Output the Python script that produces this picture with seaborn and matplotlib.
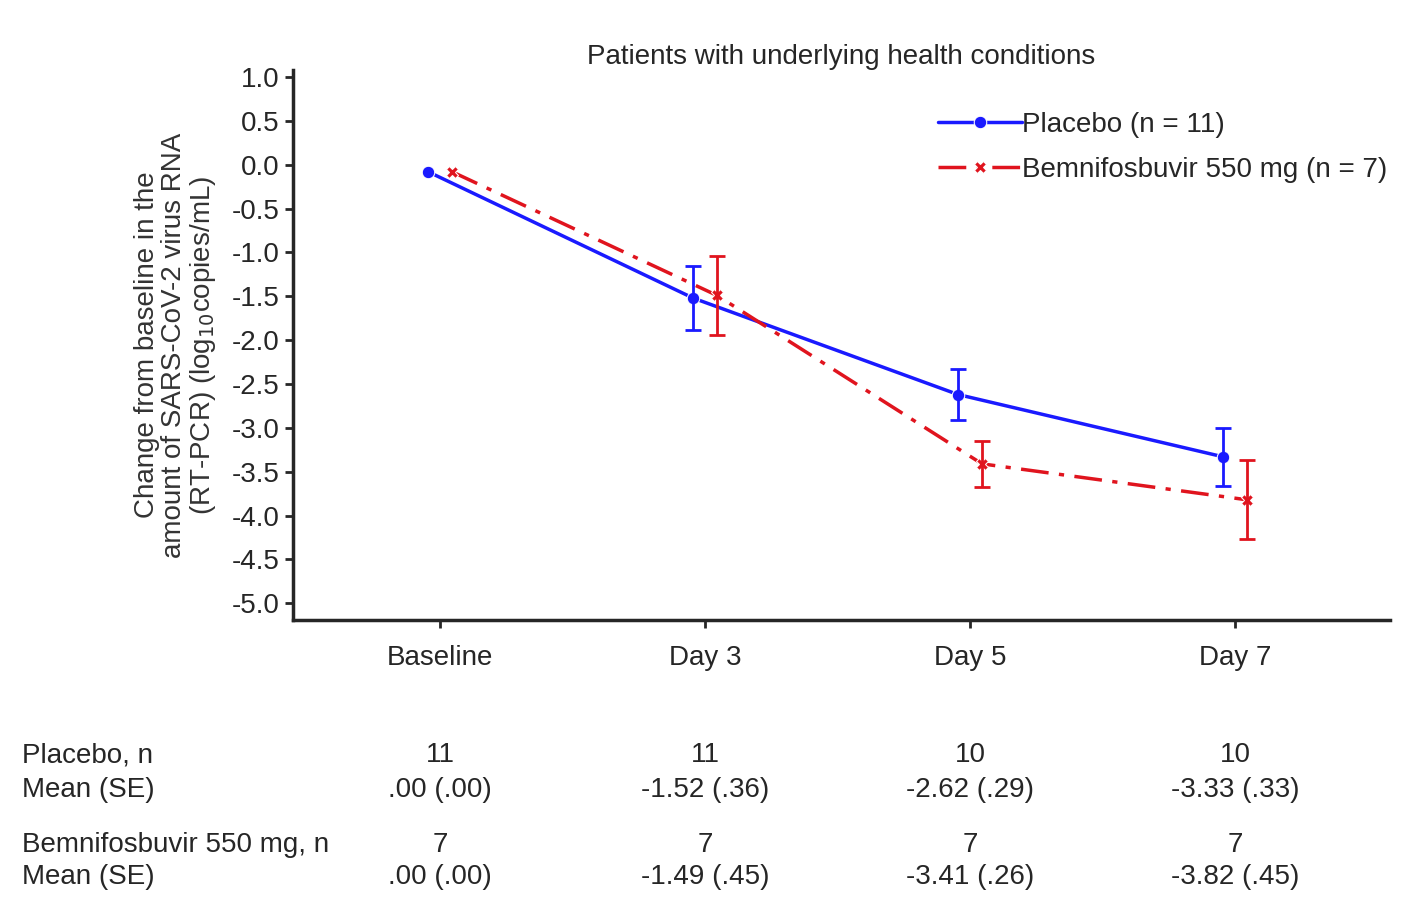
import matplotlib
matplotlib.use('Agg')
import matplotlib.pyplot as plt
import matplotlib.transforms as mtransforms
import seaborn as sns
import pandas as pd
import numpy as np

sns.set_style("ticks")
plt.rcParams['font.family'] = ['Liberation Sans', 'DejaVu Sans']

days = ['Baseline', 'Day 3', 'Day 5', 'Day 7']
placebo_n = [11, 11, 10, 10]
placebo_mean = [0.00, -1.52, -2.62, -3.33]
placebo_se = [0.00, 0.36, 0.29, 0.33]
bemni_n = [7, 7, 7, 7]
bemni_mean = [0.00, -1.49, -3.41, -3.82]
bemni_se = [0.00, 0.45, 0.26, 0.45]
# plotted baseline sits just below zero in the figure
plot_baseline = -0.08

blue = '#1a1aff'
red = '#e0141e'
fs = 20

fig = plt.figure(figsize=(14.19, 9.14), dpi=100)
ax = fig.add_axes([0.2065, 0.3217, 0.7731, 0.6017])

x = np.arange(len(days))
pm = [plot_baseline] + placebo_mean[1:]
bm = [plot_baseline] + bemni_mean[1:]
df = pd.DataFrame({
    'x': np.concatenate([x - 0.045, x + 0.045]),
    'y': pm + bm,
    'group': ['Placebo (n = 11)'] * 4 + ['Bemnifosbuvir 550 mg (n = 7)'] * 4,
})

sns.lineplot(data=df, x='x', y='y', hue='group', style='group',
             palette=[blue, red], dashes=[(None, None), (8, 3, 1.5, 3)],
             markers=['o', 'X'], markersize=9, linewidth=2.5, ax=ax)
ax.errorbar(x[1:] - 0.045, pm[1:], yerr=placebo_se[1:], fmt='none',
            ecolor=blue, elinewidth=2, capsize=6, capthick=2)
ax.errorbar(x[1:] + 0.045, bm[1:], yerr=bemni_se[1:], fmt='none',
            ecolor=red, elinewidth=2, capsize=6, capthick=2)

ax.set_xlim(-0.555, 3.585)
ax.set_ylim(-5.19, 1.08)
ax.set_yticks(np.arange(-5.0, 1.01, 0.5))
ax.set_yticklabels([f'{v:.1f}' for v in np.arange(-5.0, 1.01, 0.5)], fontsize=fs)
ax.set_xticks(x)
ax.set_xticklabels(days, fontsize=fs)
ax.tick_params(axis='both', width=2, length=6)
ax.tick_params(axis='x', pad=12)
for s in ['left', 'bottom']:
    ax.spines[s].set_linewidth(2.5)
sns.despine(ax=ax)
ax.set_xlabel('')
ax.set_ylabel('Change from baseline in the\namount of SARS-CoV-2 virus RNA\n(RT-PCR) (log$_{10}$copies/mL)',
              fontsize=fs, color='#333333', labelpad=10, linespacing=1.05)
ax.set_title('Patients with underlying health conditions', fontsize=fs, pad=4)
ax.legend(loc='upper right', frameon=False, fontsize=fs, handlelength=3,
          handletextpad=0.0, labelspacing=0.7, bbox_to_anchor=(1.02, 0.97))

trans = mtransforms.blended_transform_factory(ax.transData, fig.transFigure)
rows = [
    ('Placebo, n', [str(v) for v in placebo_n], 1 - 755 / 914),
    ('Mean (SE)', [f'{m:.2f} ({s:.2f})'.replace('0.', '.') for m, s in zip(placebo_mean, placebo_se)], 1 - 790 / 914),
    ('Bemnifosbuvir 550 mg, n', [str(v) for v in bemni_n], 1 - 845 / 914),
    ('Mean (SE)', [f'{m:.2f} ({s:.2f})'.replace('0.', '.') for m, s in zip(bemni_mean, bemni_se)], 1 - 877 / 914),
]
for label, vals, yy in rows:
    fig.text(22 / 1419, yy, label, fontsize=fs, va='center', ha='left')
    for xi, v in zip(x, vals):
        fig.text(xi, yy, v, fontsize=fs, va='center', ha='center', transform=trans)

fig.savefig('out.png', dpi=100)
